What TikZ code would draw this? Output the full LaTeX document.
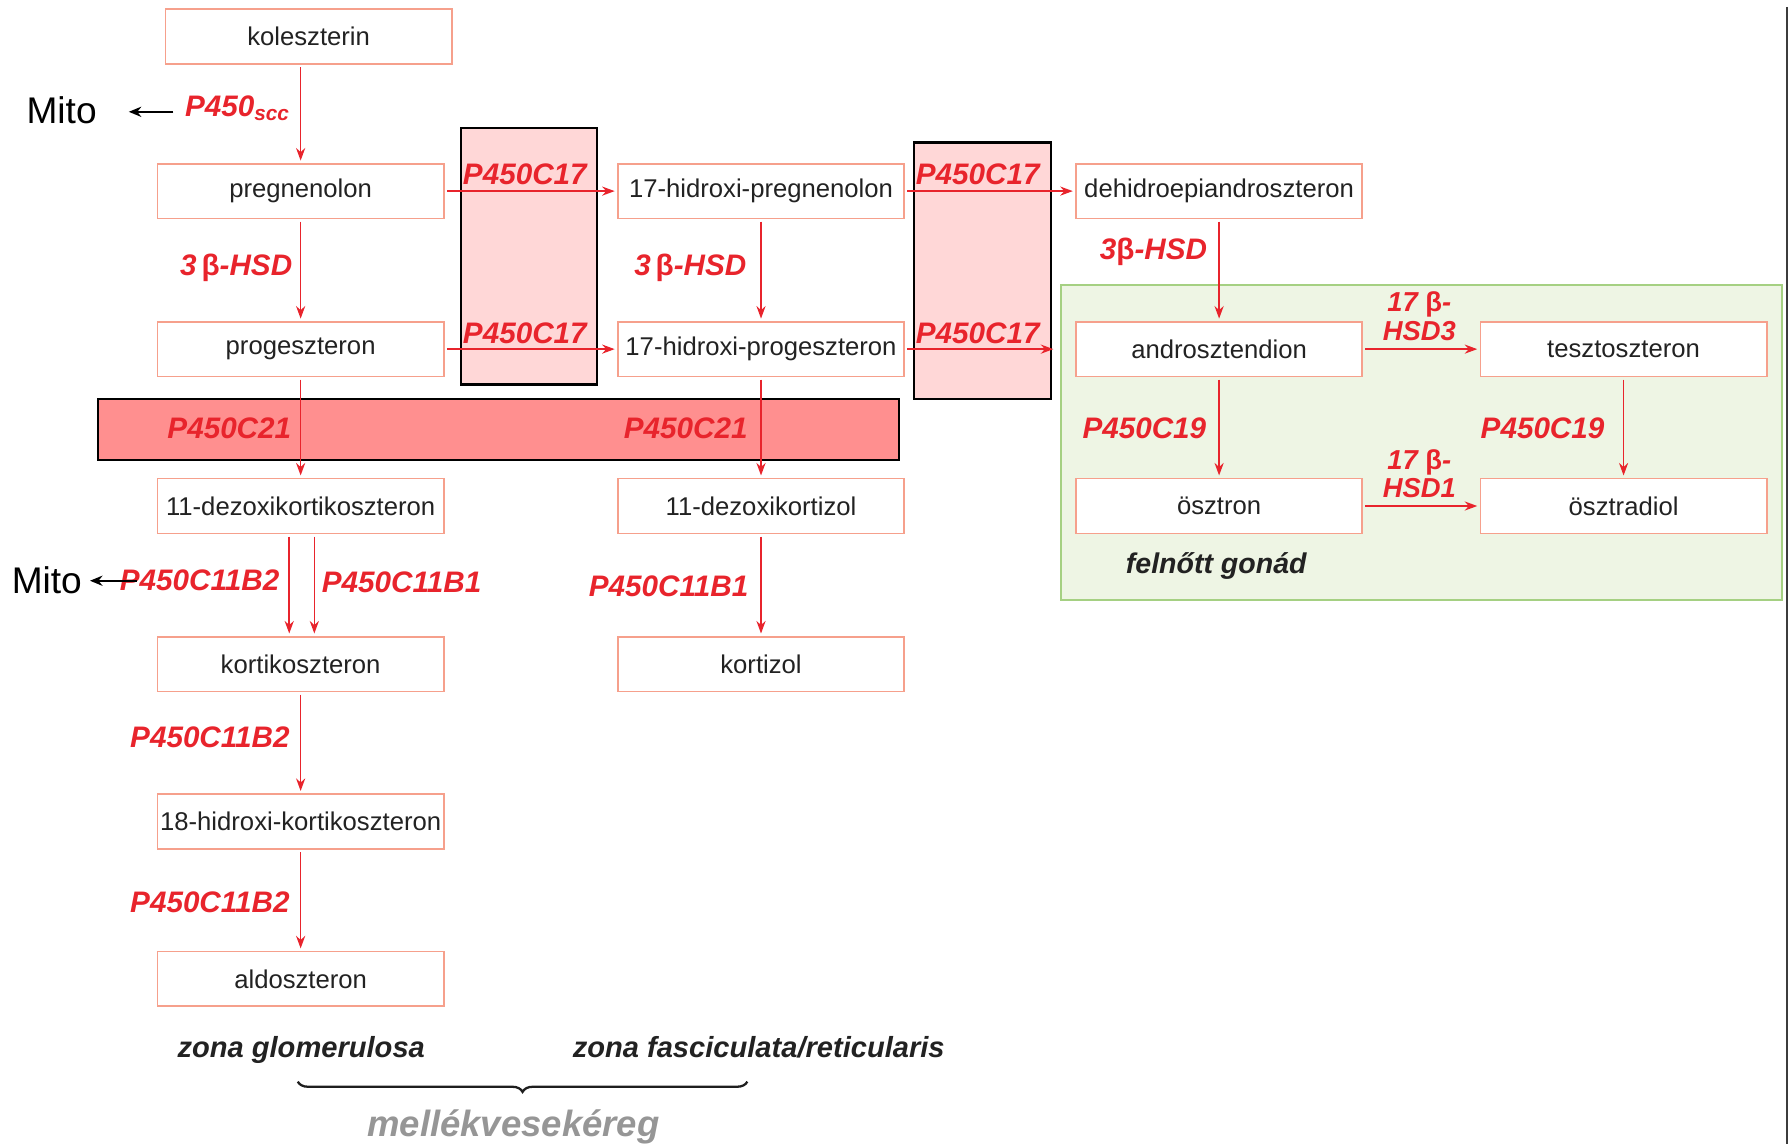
\documentclass[tikz,border=0pt]{standalone}
\usepackage{fontspec}
\setmainfont{Liberation Sans}
\usetikzlibrary{arrows.meta,decorations.pathreplacing}
\definecolor{boxc}{RGB}{246,160,140}
\definecolor{enz}{RGB}{232,36,44}
\definecolor{txt}{RGB}{34,34,34}
\definecolor{pinkl}{RGB}{255,215,215}
\definecolor{pinkd}{RGB}{255,143,143}
\definecolor{greenf}{RGB}{238,245,228}
\definecolor{greend}{RGB}{165,208,130}
\definecolor{graytxt}{RGB}{150,150,150}
\newcommand{\ubeta}{{\upshape β}}
\tikzset{
  mol/.style={rectangle, draw=boxc, line width=1.5pt, fill=white, minimum width=251pt, minimum height=48pt, inner sep=0pt, text=txt, font=\fontsize{22.5}{27}\selectfont},
  enzl/.style={text=enz, inner sep=0pt, font=\fontsize{26}{27}\selectfont\bfseries\itshape},
  rxn/.style={draw=enz, line width=1.4pt, -{Stealth[length=11pt,width=8pt]}, shorten >=2pt, shorten <=2pt},
  mitoarr/.style={draw=black, line width=1.4pt, -{Stealth[length=11pt,width=9pt]}},
  zonel/.style={text=txt, inner sep=0pt, font=\fontsize{25.5}{27}\selectfont\bfseries\itshape},
}
\begin{document}
\begin{tikzpicture}[x=1pt,y=-1pt]
\useasboundingbox (0,0) rectangle (1568,1003);
% background regions
\draw[fill=greenf, draw=greend, line width=1.8pt] (930,250) rectangle (1562,526);
\draw[fill=pinkl, draw=black, line width=2pt] (404,112) rectangle (523,337);
\draw[fill=pinkl, draw=black, line width=2pt] (801,125) rectangle (921,350);
\draw[fill=pinkd, draw=black, line width=2pt] (86,350) rectangle (788,403);
% right edge line
\draw[line width=2pt, draw={rgb,255:red,60;green,60;blue,60}] (1566,6) -- (1566,1003);
% molecules
\node[mol] (kol) at (270.5,32) {koleszterin};
\node[mol] (preg) at (263.5,167.5) {pregnenolon};
\node[mol] (prog) at (263.5,306) {progeszteron};
\node[mol] (ohpreg) at (667,167.5) {17-hidroxi-pregnenolon};
\node[mol] (ohprog) at (667,306) {17-hidroxi-progeszteron};
\node[mol] (dhea) at (1068.5,167.5) {dehidroepiandroszteron};
\node[mol] (andro) at (1068.5,306) {androsztendion};
\node[mol] (teszt) at (1423,306) {tesztoszteron};
\node[mol] (osztron) at (1068.5,443.5) {ösztron};
\node[mol] (osztradiol) at (1423,443.5) {ösztradiol};
\node[mol] (doc) at (263.5,443.5) {11-dezoxikortikoszteron};
\node[mol] (dkortizol) at (667,443.5) {11-dezoxikortizol};
\node[mol] (kortiko) at (263.5,582) {kortikoszteron};
\node[mol] (kortizol) at (667,582) {kortizol};
\node[mol] (hkortiko) at (263.5,720) {18-hidroxi-kortikoszteron};
\node[mol] (aldo) at (263.5,858) {aldoszteron};
% reactions
\draw[rxn] (kol.south -| preg.north) -- (preg.north);
\draw[rxn] (preg) -- (prog);
\draw[rxn] (ohpreg) -- (ohprog);
\draw[rxn] (dhea) -- (andro);
\draw[rxn] (preg) -- (ohpreg);
\draw[rxn] (ohpreg) -- (dhea);
\draw[rxn] (prog) -- (ohprog);
\draw[rxn, shorten >=19pt] (ohprog) -- (andro);
\draw[rxn] (andro) -- (teszt);
\draw[rxn] (osztron) -- (osztradiol);
\draw[rxn] (andro) -- (osztron);
\draw[rxn] (teszt) -- (osztradiol);
\draw[rxn] (prog) -- (doc);
\draw[rxn] (ohprog) -- (dkortizol);
\draw[rxn] ([xshift=-10pt]doc.south) -- ([xshift=-10pt]kortiko.north);
\draw[rxn] ([xshift=12pt]doc.south) -- ([xshift=12pt]kortiko.north);
\draw[rxn] (dkortizol) -- (kortizol);
\draw[rxn] (kortiko) -- (hkortiko);
\draw[rxn] (hkortiko) -- (aldo);
% enzyme labels
\node[enzl, anchor=east] (scc) at (254,95) {P450\textsubscript{scc}};
\node[enzl] (hsd1) at (207,235) {3\,\ubeta-HSD};
\node[enzl] (hsd2) at (605,235) {3\,\ubeta-HSD};
\node[enzl] (hsd3) at (1011,221) {3\ubeta-HSD};
\node[enzl] (c17a) at (460,153) {P450C17};
\node[enzl] (c17b) at (460,292) {P450C17};
\node[enzl] (c17c) at (857,153) {P450C17};
\node[enzl] (c17d) at (857,292) {P450C17};
\node[enzl] (c21a) at (201,375) {P450C21};
\node[enzl] (c21b) at (601,375) {P450C21};
\node[enzl] (b2a) at (175,509) {P450C11B2};
\node[enzl] (b1a) at (352,510) {P450C11B1};
\node[enzl] (b1b) at (586,514) {P450C11B1};
\node[enzl] (b2b) at (184,646) {P450C11B2};
\node[enzl] (b2c) at (184,791) {P450C11B2};
\node[enzl] (c19a) at (1003,375) {P450C19};
\node[enzl] (c19b) at (1352,375) {P450C19};
\node[enzl, align=center, font=\fontsize{24}{25}\selectfont\bfseries\itshape] (h17a) at (1244,277) {17 \ubeta-\\HSD3};
\node[enzl, align=center, font=\fontsize{24}{25}\selectfont\bfseries\itshape] (h17b) at (1244,415) {17 \ubeta-\\HSD1};
% Mito
\node[inner sep=0pt, font=\fontsize{32.5}{34}\selectfont] (mito1) at (54,97) {Mito};
\coordinate (m1s) at (152,98);
\draw[mitoarr] (m1s) -- ([xshift=28pt]mito1.east |- m1s);
\node[inner sep=0pt, font=\fontsize{32.5}{34}\selectfont] (mito2) at (41,509) {Mito};
\coordinate (m2s) at (120,509);
\draw[mitoarr] (m2s) -- ([xshift=7pt]mito2.east |- m2s);
% zone labels
\node[zonel] (zg) at (264,920) {zona glomerulosa};
\node[zonel] (zf) at (665,918) {zona fasciculata/reticularis};
\coordinate (brl) at (261,948);
\coordinate (brr) at (655,948);
\draw[decorate, decoration={brace, mirror, amplitude=9pt}, line width=2pt, draw={rgb,255:red,30;green,30;blue,30}] (brl) -- (brr);
\node[inner sep=0pt, text=graytxt, font=\fontsize{32}{34}\selectfont\bfseries\itshape] (mvk) at (450,988) {mellékvesekéreg};
\node[inner sep=0pt, text=txt, font=\fontsize{25}{27}\selectfont\bfseries\itshape] (gonad) at (1066,496) {felnőtt gonád};
\end{tikzpicture}
\end{document}
